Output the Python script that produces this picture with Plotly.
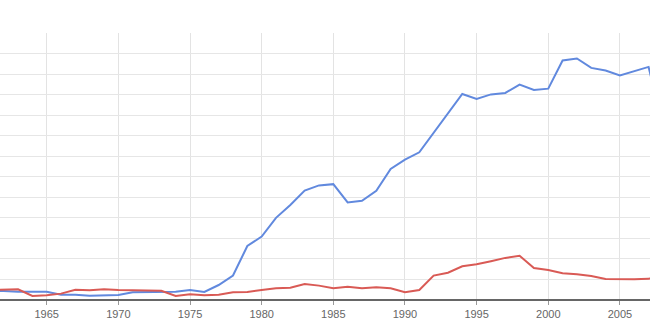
import plotly.graph_objects as go

years = list(range(1961, 2009))
blue = [0.44, 0.44, 0.40, 0.39, 0.40, 0.26, 0.26, 0.21, 0.23, 0.24,
        0.38, 0.39, 0.40, 0.40, 0.49, 0.39, 0.73, 1.19, 2.63, 3.09,
        4.00, 4.63, 5.33, 5.58, 5.64, 4.75, 4.83, 5.32, 6.38, 6.83,
        7.19, 8.13, 9.07, 10.03, 9.79, 10.01, 10.08, 10.49, 10.23, 10.29,
        11.66, 11.76, 11.30, 11.17, 10.93, 11.14, 11.35, 8.5]
red = [0.49, 0.49, 0.52, 0.20, 0.23, 0.31, 0.50, 0.47, 0.52, 0.49,
       0.47, 0.44, 0.45, 0.20, 0.28, 0.23, 0.26, 0.38, 0.39, 0.49,
       0.57, 0.60, 0.78, 0.70, 0.57, 0.65, 0.57, 0.62, 0.57, 0.38,
       0.49, 1.19, 1.33, 1.64, 1.74, 1.89, 2.05, 2.15, 1.56, 1.46,
       1.30, 1.25, 1.17, 1.02, 1.01, 1.01, 1.04, 1.05]

fig = go.Figure()
fig.add_trace(go.Scatter(x=years, y=blue, mode="lines",
                         line=dict(color="#6189de", width=2), showlegend=False))
fig.add_trace(go.Scatter(x=years, y=red, mode="lines",
                         line=dict(color="#d95a55", width=2), showlegend=False))

fig.update_layout(
    width=650, height=325,
    margin=dict(l=0, r=0, t=33, b=25),
    paper_bgcolor="white", plot_bgcolor="white",
    font=dict(family="Liberation Sans, Arial, sans-serif", size=11, color="#666666"),
    xaxis=dict(range=[1961.74, 2007.1], tick0=1965, dtick=5, showgrid=True,
               gridcolor="#e3e3e3", gridwidth=1, zeroline=False,
               ticks="outside", ticklen=4, tickcolor="#999999",
               showline=False),
    yaxis=dict(range=[0, 13], dtick=1, showgrid=True, gridcolor="#e6e6e6",
               gridwidth=1, showticklabels=False, zeroline=True,
               zerolinecolor="#666666", zerolinewidth=2, showline=False),
)
fig.write_html("out.html")
